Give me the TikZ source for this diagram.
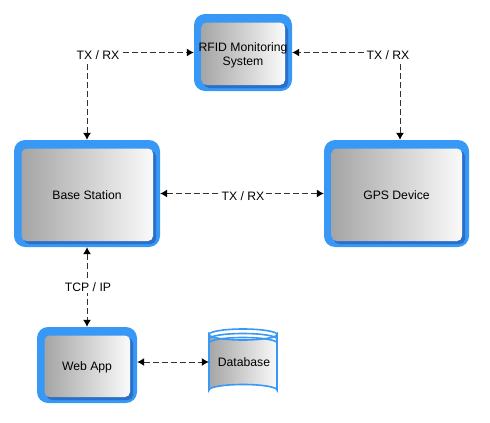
\documentclass[tikz,border=0pt]{standalone}
\usepackage{fontspec}
\setmainfont{Liberation Sans}
\usetikzlibrary{arrows.meta}
\definecolor{boxblue}{RGB}{56,152,245}
\definecolor{shadowblue}{RGB}{42,112,200}
\definecolor{gradl}{RGB}{165,165,165}
\definecolor{gradr}{RGB}{250,250,250}
\definecolor{linegray}{RGB}{50,50,50}
\newcommand\lowtxt[1]{\raisebox{-3pt}[\height][\depth]{\begin{tabular}{@{}c@{}}#1\end{tabular}}}
\tikzset{
  bx/.style 2 args={rectangle, rounded corners=11pt, fill=boxblue, inner sep=0pt,
    minimum width=#1, minimum height=#2, font=\fontsize{12.2}{14}\selectfont,
    path picture={
      \fill[shadowblue, rounded corners=5pt]
        ([xshift=10pt,yshift=3pt]path picture bounding box.south west) rectangle
        ([xshift=-4pt,yshift=-11pt]path picture bounding box.north east);
      \shade[left color=gradl, right color=gradr, rounded corners=5pt]
        ([xshift=7.5pt,yshift=6pt]path picture bounding box.south west) rectangle
        ([xshift=-7pt,yshift=-8.5pt]path picture bounding box.north east);
    }},
  conn/.style={draw=linegray, line width=1pt, dash pattern=on 6pt off 3pt,
    {Latex[length=7pt,width=8pt,black]}-{Latex[length=7pt,width=8pt,black]}},
  lbl/.style={fill=white, inner sep=1.5pt, font=\fontsize{12.2}{14}\selectfont},
  dbtext/.style={inner sep=0pt, minimum width=68pt, minimum height=66pt}
}
\begin{document}
\begin{tikzpicture}[x=1pt,y=-1pt]
\useasboundingbox[fill=white] (0,0) rectangle (490,423);

\node[bx={98pt}{77pt}] (rfid) at (243,52.5) {\lowtxt{RFID Monitoring\\System}};
\node[bx={146pt}{107pt}] (base) at (87,193.5) {\lowtxt{Base Station}};
\node[bx={145pt}{107pt}] (gps) at (396.5,193.5) {\lowtxt{GPS Device}};
\node[bx={100pt}{76pt}] (web) at (87,365) {\lowtxt{Web App}};

% database cylinder
\shade[left color=gradl, right color=gradr]
  (209,334.5) -- (209,390) arc[start angle=180, end angle=360, x radius=34, y radius=5.5]
  -- (277,334.5) arc[start angle=0, end angle=180, x radius=34, y radius=5.5] -- cycle;
\draw[boxblue, line width=1.6pt]
  (209,334.5) -- (209,390) arc[start angle=180, end angle=360, x radius=34, y radius=5.5]
  -- (277,334.5) arc[start angle=0, end angle=180, x radius=34, y radius=5.5] -- cycle;
\draw[boxblue, line width=1.6pt] (209,334.5) arc[start angle=180, end angle=360, x radius=34, y radius=5.5];
\draw[boxblue, line width=1.6pt] (209,339) arc[start angle=180, end angle=360, x radius=34, y radius=5.5];
\draw[boxblue, line width=1.6pt] (209,343) arc[start angle=180, end angle=360, x radius=34, y radius=5.5];
\node[dbtext] (db) at (243,362) {};
\node[font=\fontsize{12.2}{14}\selectfont] at (244,362) {Database};

% connectors
\draw[conn] (base.north) |- (rfid.west);
\node[lbl] at (98,55) {TX / RX};
\draw[conn] (gps.north -| 400,0) |- (rfid.east);
\node[lbl] at (388,55) {TX / RX};
\draw[conn] (base.east) -- (gps.west);
\node[lbl] at (243,196) {TX / RX};
\draw[conn] (base.south) -- (web.north);
\node[lbl] at (88,287) {TCP / IP};
\draw[conn] (web.east |- db.west) -- (db.west);
\end{tikzpicture}
\end{document}
